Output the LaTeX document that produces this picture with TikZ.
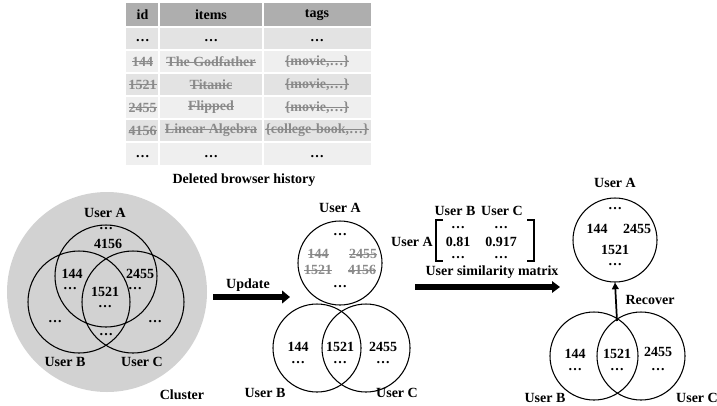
\documentclass[tikz,border=0pt]{standalone}
\usepackage{fontspec}
\setmainfont{Liberation Serif}
\usetikzlibrary{arrows.meta}
\definecolor{hdrgray}{HTML}{AEAEAE}
\definecolor{rowa}{HTML}{E3E3E3}
\definecolor{rowb}{HTML}{EFEFEF}
\definecolor{strkgray}{HTML}{8A8A8A}
\definecolor{clusgray}{HTML}{D2D2D2}
\newcommand{\strk}[1]{\leavevmode\setbox0\hbox{#1}\rlap{\rule[0.28em]{\wd0}{0.6pt}}\box0}
\begin{document}
\begin{tikzpicture}[x=0.75pt,y=-0.75pt,
  font=\fontsize{10.5}{12}\selectfont\bfseries,
  every node/.style={inner sep=0pt},
  gone/.style={text=strkgray},
  ring/.style={circle,draw=black,line width=0.8pt},
  bigarrow/.style={line width=4.5pt,-{Triangle[length=6pt,width=9.5pt]}},
  midarrow/.style={line width=3.8pt,-{Triangle[length=6pt,width=8.5pt]}},
  thinarrow/.style={line width=1.3pt,-{Triangle[length=5pt,width=5pt]}},
  bracket/.style={line width=1.5pt}]
\useasboundingbox (0,0) rectangle (717,405);
% ---------- table ----------
\fill[hdrgray] (126,3) rectangle (371,27);
\foreach \ya/\yb/\c in {27/50/rowa,50/73/rowb,73/96/rowa,96/119/rowb,119/142/rowa,142/165/rowb}
  \fill[\c] (126,\ya) rectangle (371,\yb);
\foreach \yy in {27,50,73,96,119,142}
  \draw[white,line width=1.2pt] (126,\yy) -- (371,\yy);
\foreach \xx in {159,263}
  \draw[white,line width=1.2pt] (\xx,3) -- (\xx,165);
\node (h1) at (142.5,15) {id};
\node (h2) at (211,15) {items};
\node (h3) at (317,15) {tags};
\node (r1a) at (142.5,41) {…};
\node (r1b) at (211,41) {…};
\node (r1c) at (317,41) {…};
\node[gone] (r2a) at (142.5,61.5) {\strk{144}};
\node[gone] (r2b) at (211,61.5) {\strk{The Godfather}};
\node[gone] (r2c) at (317,61.5) {\strk{\{movie,…\}}};
\node[gone] (r3a) at (142.5,84.5) {\strk{1521}};
\node[gone] (r3b) at (211,84.5) {\strk{Titanic}};
\node[gone] (r3c) at (317,84.5) {\strk{\{movie,…\}}};
\node[gone] (r4a) at (142.5,107.5) {\strk{2455}};
\node[gone] (r4b) at (211,107.5) {\strk{Flipped}};
\node[gone] (r4c) at (317,107.5) {\strk{\{movie,…\}}};
\node[gone] (r5a) at (142.5,130.5) {\strk{4156}};
\node[gone] (r5b) at (211,130.5) {\strk{Linear Algebra}};
\node[gone] (r5c) at (317,130.5) {\strk{\{college-book,…\}}};
\node (r6a) at (142.5,157) {…};
\node (r6b) at (211,157) {…};
\node (r6c) at (317,157) {…};
\node (caption) at (244,180) {Deleted browser history};
% ---------- cluster ----------
\node[circle,fill=clusgray,minimum size=150pt] (cluster) at (107,292) {};
\node[ring,minimum size=76.5pt] (cA) at (106,276) {};
\node[ring,minimum size=76.5pt] (cB) at (79,302) {};
\node[ring,minimum size=76.5pt] (cC) at (133,302) {};
\node (cAl) at (105,213) {User A};
\node (cAd) at (106,229) {…};
\node (cA4156) at (108,244) {4156};
\node (c144) at (72,274) {144};
\node (c144d) at (70,289) {…};
\node (c2455) at (140,274) {2455};
\node (c2455d) at (135,289) {…};
\node (c1521) at (105,292) {1521};
\node (c1521d) at (105,307) {…};
\node (cBd) at (55,322) {…};
\node (cCd) at (155,322) {…};
\node (cBCd) at (106,335) {…};
\node (cBl) at (65,362) {User B};
\node (cCl) at (142,362) {User C};
\node (cluslbl) at (182,395) {Cluster};
% ---------- update arrow ----------
\coordinate (u1) at (213,297);
\coordinate (u2) at (290,297);
\draw[bigarrow] (u1) -- (u2);
\node (upd) at (248,285) {Update};
% ---------- middle venn ----------
\node[ring,minimum size=63pt] (mA) at (340,263) {};
\node[ring,minimum size=66pt] (mB) at (317,348) {};
\node[ring,minimum size=66pt] (mC) at (366,348) {};
\node (mAl) at (340,208) {User A};
\node (mAd1) at (340,235) {…};
\node[gone] (mA144) at (318,254) {\strk{144}};
\node[gone] (mA2455) at (363,254) {\strk{2455}};
\node[gone] (mA1521) at (318,270) {\strk{1521}};
\node[gone] (mA4156) at (362,270) {\strk{4156}};
\node (mAd2) at (340,287) {…};
\node (mB144) at (298,347) {144};
\node (mB144d) at (298,363) {…};
\node (m1521) at (340,347) {1521};
\node (m1521d) at (340,363) {…};
\node (mC2455) at (383,347) {2455};
\node (mC2455d) at (383,363) {…};
\node (mBl) at (265,393) {User B};
\node (mCl) at (397,393) {User C};
% ---------- similarity matrix ----------
\node (sB) at (455,211) {User B};
\node (sC) at (502,211) {User C};
\node (sA) at (412,242) {User A};
\draw[bracket] (443,220) -- (436,220) -- (436,261) -- (443,261);
\draw[bracket] (527,220) -- (534,220) -- (534,261) -- (527,261);
\node (s11) at (458,228) {…};
\node (s12) at (501,228) {…};
\node (s21) at (458,242) {0.81};
\node (s22) at (501,242) {0.917};
\node (s31) at (458,258) {…};
\node (s32) at (501,258) {…};
\node (slbl) at (492,272) {User similarity matrix};
\coordinate (s1) at (415,287);
\coordinate (s2) at (560,287);
\draw[midarrow] (s1) -- (s2);
% ---------- right venn ----------
\node[ring,minimum size=63pt] (rA) at (615,240) {};
\node[ring,minimum size=66pt] (rB) at (594,356) {};
\node[ring,minimum size=66pt] (rC) at (641,356) {};
\node (rAl) at (615,183) {User A};
\node (rAd1) at (615,209) {…};
\node (rA144) at (597,229) {144};
\node (rA2455) at (637,229) {2455};
\node (rA1521) at (615,250) {1521};
\node (rAd2) at (615,265) {…};
\node (rB144) at (575,354) {144};
\node (rB144d) at (575,370) {…};
\node (r1521) at (617,354) {1521};
\node (r1521d) at (617,370) {…};
\node (rC2455) at (658,352) {2455};
\node (rC2455d) at (658,370) {…};
\node (rBl) at (545,398) {User B};
\node (rCl) at (697,398) {User C};
\coordinate (rv1) at (617,321);
\draw[thinarrow] (rv1) -- (rA.south);
\node (recov) at (650,300) {Recover};
\end{tikzpicture}
\end{document}
